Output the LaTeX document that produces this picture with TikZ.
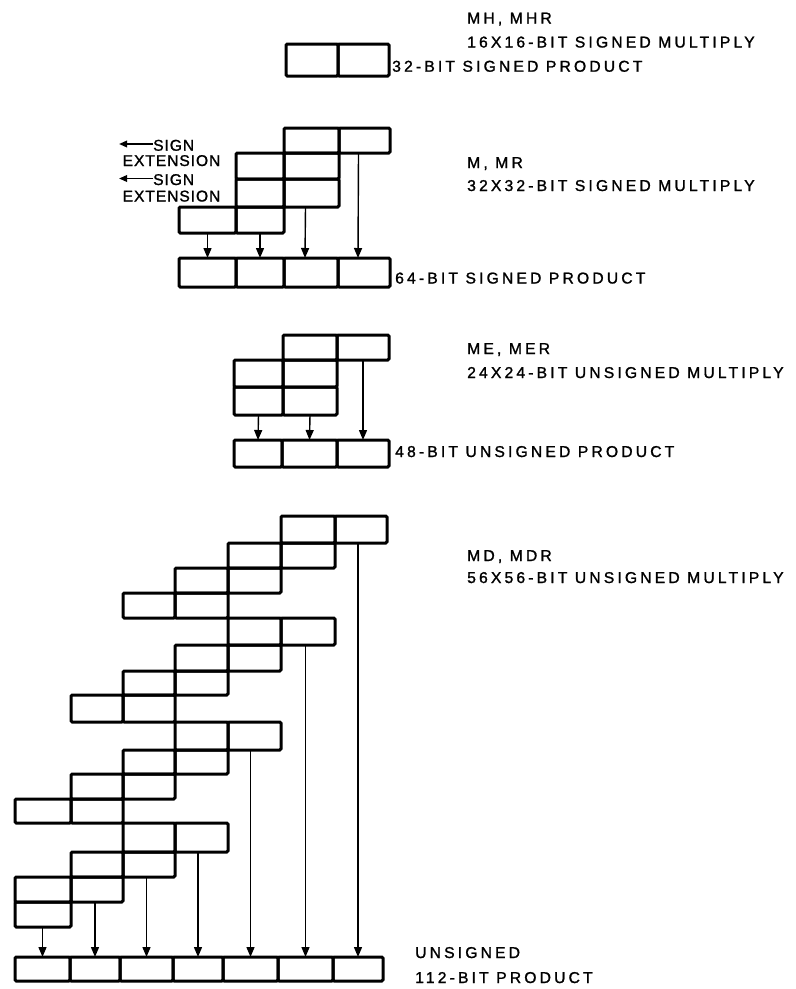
\documentclass[tikz,border=0pt]{standalone}
\usepackage{fontspec}
\setmainfont{Liberation Sans}
\newfontfamily\labfont[LetterSpace=20,FakeBold=1.3]{Liberation Sans}
\newfontfamily\sgnfont[LetterSpace=6,FakeBold=1.3]{Liberation Sans}
\usetikzlibrary{arrows.meta}
% style, name, x-left, x-right, y-top, y-bottom
\newcommand\cellat[6]{%
  \pgfmathsetmacro\mycw{#4-#3}%
  \pgfmathsetmacro\mych{#6-#5}%
  \pgfmathsetmacro\mycx{(#3+#4)/2}%
  \pgfmathsetmacro\mycy{(#5+#6)/2}%
  \node[#1, minimum width=\mycw pt, minimum height=\mych pt] (#2) at (\mycx,\mycy) {};}
\begin{document}
\begin{tikzpicture}[x=1pt,y=-1pt,
  cellbox/.style={draw, line width=3pt, rounded corners=1.2pt, inner sep=0pt, outer sep=0pt},
  arr/.style={-{Triangle[length=10pt,width=8pt]}, line width=1.4pt},
  sarr/.style={-{Triangle[length=8pt,width=6.5pt]}, line width=1.8pt},
  lab/.style={font=\labfont\fontsize{15.7}{18}\selectfont, inner sep=0pt, anchor=base west},
  sgn/.style={font=\sgnfont\fontsize{15.6}{18}\selectfont, inner sep=0pt}]
\useasboundingbox (0,0) rectangle (796,989);

% ---- MH, MHR ----
\cellat{cellbox}{h0}{286}{338}{44}{76}
\cellat{cellbox}{h1}{338}{389}{44}{76}
\node[lab] (hl1) at (467,23.5) {MH, MHR};
\node[lab] (hl2) at (467,47.5) {16X16-BIT SIGNED MULTIPLY};
\node[lab] (hl3) at (392,71.7) {32-BIT SIGNED PRODUCT};

% ---- M, MR ----
\foreach \r/\c in {1/2,2/1,3/1,4/0}{
  \foreach \k in {0,1}{
    \pgfmathtruncatemacro{\cc}{\c+\k}
    \pgfmathsetmacro{\xl}{{179,236,284,339,390}[\cc]}
    \pgfmathsetmacro{\xr}{{179,236,284,339,390}[\cc+1]}
    \pgfmathsetmacro{\yt}{{128,153,179,207,233}[\r-1]}
    \pgfmathsetmacro{\yb}{{128,153,179,207,233}[\r]}
    \cellat{cellbox}{m\r-\cc}{\xl}{\xr}{\yt}{\yb}
  }
}
\foreach \c in {0,...,3}{
  \pgfmathsetmacro{\xl}{{179,236,284,338,390}[\c]}
  \pgfmathsetmacro{\xr}{{179,236,284,338,390}[\c+1]}
  \cellat{cellbox}{q\c}{\xl}{\xr}{258}{287}
}
\draw[arr] (m4-0.south) -- (q0.north);
\draw[arr] (m4-1.south) -- (q1.north);
\draw[arr] ([xshift=-6pt]m3-2.south) -- ([xshift=-6pt]q2.north);
\draw[arr] ([xshift=-6pt]m1-3.south) -- ([xshift=-6pt]q3.north);
\node[lab] (ml1) at (467,168) {M, MR};
\node[lab] (ml2) at (467,191) {32X32-BIT SIGNED MULTIPLY};
\node[lab] (ml3) at (395,283.5) {64-BIT SIGNED PRODUCT};
\node[sgn, anchor=base west] (s1) at (153,150.7) {SIGN};
\node[sgn, anchor=base west] (x1) at (122.5,166) {EXTENSION};
\node[sgn, anchor=base west] (s2) at (153,185) {SIGN};
\node[sgn, anchor=base west] (x2) at (122.5,201.5) {EXTENSION};
\coordinate (a1) at (119,144);
\coordinate (a2) at (119,178.5);
\draw[sarr] (s1.west |- a1) -- (a1);
\draw[sarr] (s2.west |- a2) -- (a2);

% ---- ME, MER ----
\foreach \r/\c in {1/1,2/0,3/0}{
  \foreach \k in {0,1}{
    \pgfmathtruncatemacro{\cc}{\c+\k}
    \pgfmathsetmacro{\xl}{{234,283,337,389}[\cc]}
    \pgfmathsetmacro{\xr}{{234,283,337,389}[\cc+1]}
    \pgfmathsetmacro{\yt}{{335,360,387,415}[\r-1]}
    \pgfmathsetmacro{\yb}{{335,360,387,415}[\r]}
    \cellat{cellbox}{e\r-\cc}{\xl}{\xr}{\yt}{\yb}
  }
}
\foreach \c in {0,...,2}{
  \pgfmathsetmacro{\xl}{{234,282,337,389}[\c]}
  \pgfmathsetmacro{\xr}{{234,282,337,389}[\c+1]}
  \cellat{cellbox}{t\c}{\xl}{\xr}{440}{467}
}
\draw[arr] (e3-0.south) -- (t0.north);
\draw[arr] (e3-1.south) -- (t1.north);
\draw[arr] (e1-2.south) -- (t2.north);
\node[lab] (el1) at (467,354) {ME, MER};
\node[lab] (el2) at (467,378) {24X24-BIT UNSIGNED MULTIPLY};
\node[lab] (el3) at (395,457) {48-BIT UNSIGNED PRODUCT};

% ---- MD, MDR ----
\foreach \r/\c/\n in {1/5/2,2/4/2,3/3/2,4/2/2,5/4/2,6/3/2,7/2/2,8/1/2,9/3/2,10/2/2,11/1/2,12/0/2,13/2/2,14/1/2,15/0/2,16/0/1}{
  \foreach \k in {1,...,\n}{
    \pgfmathtruncatemacro{\cc}{\c+\k-1}
    \pgfmathsetmacro{\xl}{{15,71,123,175,228,281,335,387}[\cc]}
    \pgfmathsetmacro{\xr}{{15,71,123,175,228,281,335,387}[\cc+1]}
    \pgfmathsetmacro{\yt}{{516,543,568,593,618,645,671,695,722,750,774,799,823,852,877,902,927}[\r-1]}
    \pgfmathsetmacro{\yb}{{516,543,568,593,618,645,671,695,722,750,774,799,823,852,877,902,927}[\r]}
    \cellat{cellbox}{d\r-\cc}{\xl}{\xr}{\yt}{\yb}
  }
}
\foreach \c in {0,...,6}{
  \pgfmathsetmacro{\xl}{{15,70,120,173,223,278,333,383}[\c]}
  \pgfmathsetmacro{\xr}{{15,70,120,173,223,278,333,383}[\c+1]}
  \cellat{cellbox}{p\c}{\xl}{\xr}{957}{981}
}
\draw[arr] (p0.north |- d16-0.south) -- (p0.north);
\draw[arr] (p1.north |- d15-1.south) -- (p1.north);
\draw[arr] (p2.north |- d14-2.south) -- (p2.north);
\draw[arr] (p3.north |- d13-3.south) -- (p3.north);
\draw[arr] (p4.north |- d9-4.south) -- (p4.north);
\draw[arr] (p5.north |- d5-5.south) -- (p5.north);
\draw[arr] (p6.north |- d1-6.south) -- (p6.north);
\node[lab] (dl1) at (467,561) {MD, MDR};
\node[lab] (dl2) at (467,583) {56X56-BIT UNSIGNED MULTIPLY};
\node[lab] (dl3) at (415,958) {UNSIGNED};
\node[lab] (dl4) at (415,983) {112-BIT PRODUCT};
\end{tikzpicture}
\end{document}
